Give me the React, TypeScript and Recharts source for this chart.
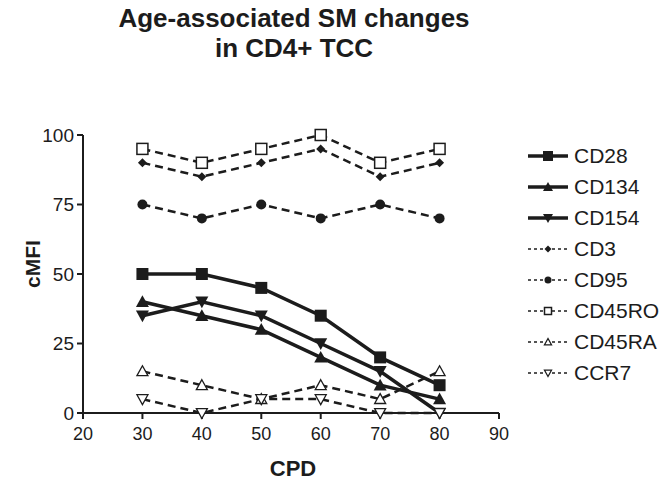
import React from 'react';
import { LineChart, Line, XAxis, YAxis } from 'recharts';

// population doublings (x) and marker intensity per surface molecule
const cpd = [30, 40, 50, 60, 70, 80];
const cd28 = [50, 50, 45, 35, 20, 10];
const cd134 = [40, 35, 30, 20, 10, 5];
const cd154 = [35, 40, 35, 25, 15, 0];
const cd3 = [90, 85, 90, 95, 85, 90];
const cd95 = [75, 70, 75, 70, 75, 70];
const cd45ro = [95, 90, 95, 100, 90, 95];
const cd45ra = [15, 10, 5, 10, 5, 15];
const ccr7 = [5, 0, 5, 5, 0, 0];

const xTicks = [20, 30, 40, 50, 60, 70, 80, 90];
const yTicks = [0, 25, 50, 75, 100];

const INK = '#1c1c1c';
const FONT = '"Liberation Sans", Arial, Helvetica, sans-serif';

type Shape =
  | 'square'
  | 'triUp'
  | 'triDown'
  | 'diamond'
  | 'circle'
  | 'openSquare'
  | 'openTriUp'
  | 'openTriDown';

const series: { key: string; values: number[]; shape: Shape; dashed: boolean }[] = [
  { key: 'CD28', values: cd28, shape: 'square', dashed: false },
  { key: 'CD134', values: cd134, shape: 'triUp', dashed: false },
  { key: 'CD154', values: cd154, shape: 'triDown', dashed: false },
  { key: 'CD3', values: cd3, shape: 'diamond', dashed: true },
  { key: 'CD95', values: cd95, shape: 'circle', dashed: true },
  { key: 'CD45RO', values: cd45ro, shape: 'openSquare', dashed: true },
  { key: 'CD45RA', values: cd45ra, shape: 'openTriUp', dashed: true },
  { key: 'CCR7', values: ccr7, shape: 'openTriDown', dashed: true },
];

const data = cpd.map((x, i) => {
  const row: Record<string, number> = { cpd: x };
  series.forEach(s => {
    row[s.key] = s.values[i];
  });
  return row;
});

const Marker = ({ cx, cy, shape, s }: { cx: number; cy: number; shape: Shape; s: number }) => {
  const h = s / 2;
  switch (shape) {
    case 'square':
      return <rect x={cx - h} y={cy - h} width={s} height={s} fill={INK} />;
    case 'openSquare':
      return <rect x={cx - h} y={cy - h} width={s} height={s} fill="#fff" stroke={INK} strokeWidth={1.5} />;
    case 'triUp':
      return <polygon points={`${cx},${cy - h} ${cx + h},${cy + h * 0.8} ${cx - h},${cy + h * 0.8}`} fill={INK} />;
    case 'triDown':
      return <polygon points={`${cx},${cy + h} ${cx + h},${cy - h * 0.8} ${cx - h},${cy - h * 0.8}`} fill={INK} />;
    case 'openTriUp':
      return (
        <polygon
          points={`${cx},${cy - h} ${cx + h},${cy + h * 0.8} ${cx - h},${cy + h * 0.8}`}
          fill="#fff"
          stroke={INK}
          strokeWidth={1.3}
        />
      );
    case 'openTriDown':
      return (
        <polygon
          points={`${cx},${cy + h} ${cx + h},${cy - h * 0.8} ${cx - h},${cy - h * 0.8}`}
          fill="#fff"
          stroke={INK}
          strokeWidth={1.3}
        />
      );
    case 'diamond':
      return <polygon points={`${cx},${cy - h} ${cx + h},${cy} ${cx},${cy + h} ${cx - h},${cy}`} fill={INK} />;
    case 'circle':
      return <circle cx={cx} cy={cy} r={h} fill={INK} />;
  }
  return null;
};

const dotSize: Record<Shape, number> = {
  square: 12,
  triUp: 13,
  triDown: 13,
  diamond: 9,
  circle: 10,
  openSquare: 11,
  openTriUp: 11,
  openTriDown: 11,
};

const legendSize: Record<Shape, number> = {
  square: 10,
  triUp: 10,
  triDown: 10,
  diamond: 7,
  circle: 7,
  openSquare: 7,
  openTriUp: 7,
  openTriDown: 7,
};

// legend column on the right, outside the plot
const LegendBox = () => (
  <div
    style={{
      position: 'absolute',
      left: 526,
      top: 140,
      fontFamily: FONT,
      fontSize: 21,
      color: INK,
    }}
  >
    {series.map(s => (
      <div key={s.key} style={{ display: 'flex', alignItems: 'center', height: 31 }}>
        <svg width={46} height={20}>
          <line
            x1={2}
            x2={42}
            y1={10}
            y2={10}
            stroke={INK}
            strokeWidth={s.dashed ? 1.5 : 3.5}
            strokeDasharray={s.dashed ? '3 3' : undefined}
          />
          <Marker cx={22} cy={10} shape={s.shape} s={legendSize[s.shape]} />
        </svg>
        <span style={{ marginLeft: 2 }}>{s.key}</span>
      </div>
    ))}
  </div>
);

const YTitle = ({ viewBox }: any) => {
  const cy = viewBox.y + viewBox.height / 2 - 10;
  return (
    <text
      x={32}
      y={cy}
      transform={`rotate(-90, 32, ${cy})`}
      textAnchor="middle"
      dominantBaseline="central"
      style={{ fontFamily: FONT, fontSize: 21, fontWeight: 700, fill: INK }}
    >
      cMFI
    </text>
  );
};

const XTitle = ({ viewBox }: any) => (
  <text
    x={viewBox.x + viewBox.width / 2 + 2}
    y={476}
    textAnchor="middle"
    style={{ fontFamily: FONT, fontSize: 22, fontWeight: 700, fill: INK }}
  >
    CPD
  </text>
);

export default function App() {
  return (
    <div style={{ position: 'absolute', left: 0, top: 0, width: 668, height: 480, background: '#fff' }}>
      <div
        style={{
          position: 'absolute',
          left: 94,
          top: 3,
          width: 400,
          textAlign: 'center',
          fontFamily: FONT,
          fontSize: 26,
          fontWeight: 700,
          lineHeight: '30px',
          color: INK,
        }}
      >
        Age-associated SM changes
        <br />
        in CD4+ TCC
      </div>
      <LineChart
        width={668}
        height={480}
        data={data}
        margin={{ top: 135, right: 169, bottom: 37, left: 43 }}
      >
        <XAxis
          dataKey="cpd"
          type="number"
          domain={[20, 90]}
          ticks={xTicks}
          interval={0}
          height={30}
          tickSize={6}
          tickMargin={8}
          stroke={INK}
          strokeWidth={2}
          tick={{ fontFamily: FONT, fontSize: 18, fill: INK }}
          label={<XTitle />}
        />
        <YAxis
          type="number"
          domain={[0, 100]}
          ticks={yTicks}
          interval={0}
          width={40}
          tickSize={6}
          tickMargin={3}
          stroke={INK}
          strokeWidth={2}
          tick={{ fontFamily: FONT, fontSize: 19, fill: INK }}
          label={<YTitle />}
        />
        {series.map(s => (
          <Line
            key={s.key}
            dataKey={s.key}
            stroke={INK}
            strokeWidth={s.dashed ? 2.5 : 3.5}
            strokeDasharray={s.dashed ? '8 5' : undefined}
            isAnimationActive={false}
            dot={(p: any) => (
              <Marker key={`${s.key}-${p.index}`} cx={p.cx} cy={p.cy} shape={s.shape} s={dotSize[s.shape]} />
            )}
            activeDot={false}
          />
        ))}
      </LineChart>
      <LegendBox />
    </div>
  );
}
